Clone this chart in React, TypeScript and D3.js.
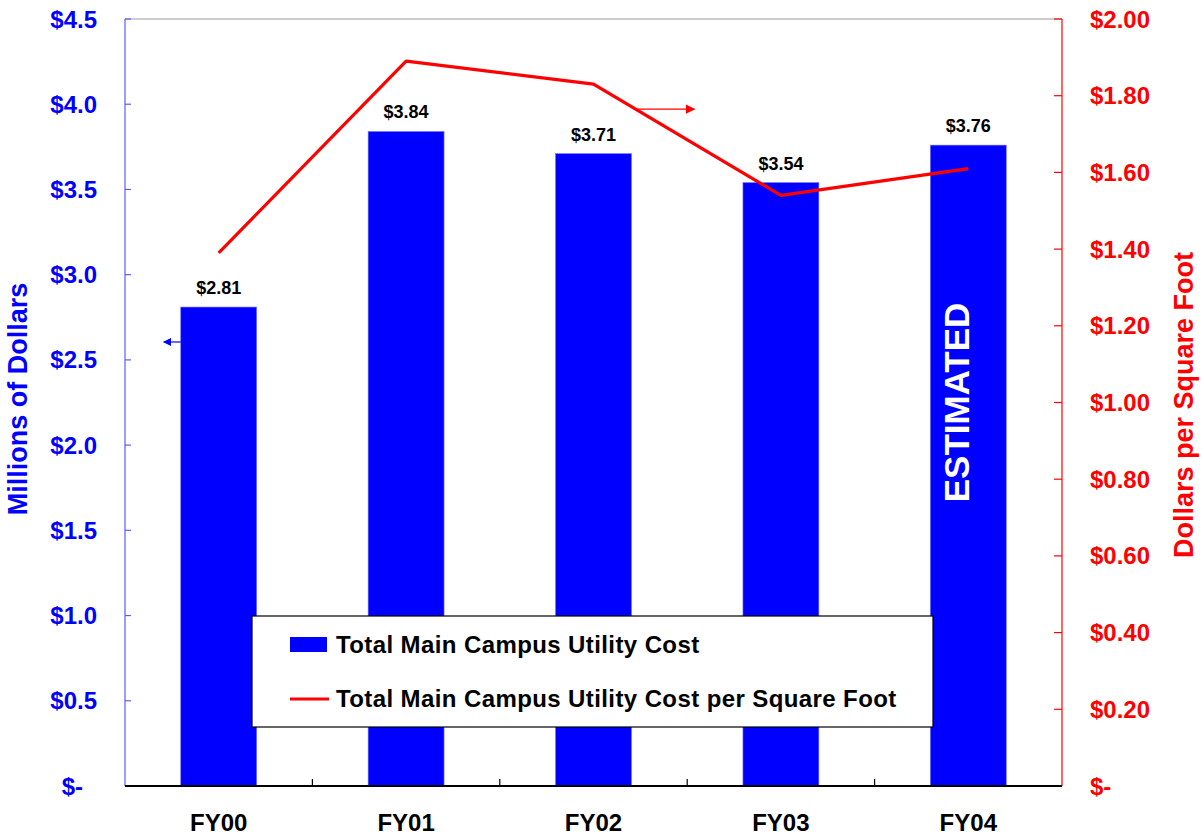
import { useMemo } from 'react';
import * as d3 from 'd3';

const categories = ['FY00', 'FY01', 'FY02', 'FY03', 'FY04'];
const totalCost = [2.81, 3.84, 3.71, 3.54, 3.76];
const costPerSqFt = [1.39, 1.89, 1.83, 1.54, 1.61];
const leftTicks = [0, 0.5, 1, 1.5, 2, 2.5, 3, 3.5, 4, 4.5];
const rightTicks = [0, 0.2, 0.4, 0.6, 0.8, 1, 1.2, 1.4, 1.6, 1.8, 2];

const WIDTH = 1204;
const HEIGHT = 835;
const LEFT = 125;
const RIGHT = 1062;
const TOP = 19;
const BOTTOM = 786;

const FONT = '"Liberation Sans", Arial, Helvetica, sans-serif';
const BLUE = '#0000ff';
const RED = '#ff0000';

const fmtLeft = (v: number) => (v === 0 ? '$-' : `$${v.toFixed(1)}`);
const fmtRight = (v: number) => (v === 0 ? '$-' : `$${v.toFixed(2)}`);

export default function App() {
  const x = useMemo(
    () =>
      d3
        .scaleBand<string>()
        .domain(categories)
        .range([LEFT, RIGHT])
        .paddingInner(0.595)
        .paddingOuter(0.2975),
    [],
  );
  const yLeft = useMemo(() => d3.scaleLinear().domain([0, 4.5]).range([BOTTOM, TOP]), []);
  const yRight = useMemo(() => d3.scaleLinear().domain([0, 2]).range([BOTTOM, TOP]), []);

  const cx = (c: string) => (x(c) ?? 0) + x.bandwidth() / 2;

  const linePath = d3
    .line<number>()
    .x((_, i) => cx(categories[i]))
    .y((d) => yRight(d))(costPerSqFt);

  // band boundaries carry the category ticks
  const boundaries = categories.slice(1).map((c) => (x(c) ?? 0) - (x.step() - x.bandwidth()) / 2);

  // arrow annotations pointing to each axis
  const leftArrowY = yLeft(2.605);
  const leftArrowX = x(categories[0]) ?? 0;
  const rightArrowY = yRight(1.765);
  const rightArrowX = cx(categories[2]) + 41;

  const last = categories[categories.length - 1];

  return (
    <svg
      width={WIDTH}
      height={HEIGHT}
      style={{ position: 'absolute', left: 0, top: 0, background: '#fff' }}
      fontFamily={FONT}
      fontWeight="bold"
    >
      <defs>
        <marker id="arrowBlue" viewBox="0 0 10 10" refX="9" refY="5" markerWidth="7" markerHeight="7" orient="auto">
          <path d="M0,0 L10,5 L0,10 z" fill={BLUE} />
        </marker>
        <marker id="arrowRed" viewBox="0 0 10 10" refX="9" refY="5" markerWidth="8" markerHeight="8" orient="auto">
          <path d="M0,0 L10,5 L0,10 z" fill={RED} />
        </marker>
      </defs>

      {/* top frame line */}
      <line x1={LEFT} x2={RIGHT} y1={TOP} y2={TOP} stroke="#999" strokeWidth={1.2} />

      {/* bars */}
      {totalCost.map((v, i) => (
        <rect
          key={categories[i]}
          x={x(categories[i])}
          y={yLeft(v)}
          width={x.bandwidth()}
          height={BOTTOM - yLeft(v)}
          fill={BLUE}
          stroke="#6f6fff"
          strokeWidth={0.6}
        />
      ))}

      {/* bar value labels */}
      {totalCost.map((v, i) => (
        <text
          key={`lbl-${categories[i]}`}
          x={cx(categories[i])}
          y={yLeft(v) - 13}
          textAnchor="middle"
          fontSize={18}
          fill="#000"
        >
          {`$${v.toFixed(2)}`}
        </text>
      ))}

      <text
        transform={`translate(${cx(last) - 12}, ${(TOP + BOTTOM) / 2}) rotate(-90)`}
        textAnchor="middle"
        dominantBaseline="central"
        fontSize={35}
        fill="#fff"
      >
        ESTIMATED
      </text>

      {/* per square foot line */}
      <path d={linePath ?? ''} fill="none" stroke={RED} strokeWidth={3.2} strokeLinejoin="round" />

      {/* arrows */}
      <line
        x1={leftArrowX}
        x2={leftArrowX - 17}
        y1={leftArrowY}
        y2={leftArrowY}
        stroke={BLUE}
        strokeWidth={1.2}
        markerEnd="url(#arrowBlue)"
      />
      <line
        x1={rightArrowX}
        x2={rightArrowX + 60}
        y1={rightArrowY}
        y2={rightArrowY}
        stroke={RED}
        strokeWidth={1.2}
        markerEnd="url(#arrowRed)"
      />

      {/* left axis */}
      <line x1={LEFT} x2={LEFT} y1={TOP} y2={BOTTOM} stroke="#5c5cff" strokeWidth={1.2} />
      {leftTicks.map((t) => (
        <g key={`l-${t}`}>
          <line x1={LEFT} x2={LEFT + 6} y1={yLeft(t)} y2={yLeft(t)} stroke="#5c5cff" strokeWidth={1.2} />
          <text
            x={t === 0 ? 83 : 97}
            y={yLeft(t)}
            textAnchor="end"
            dominantBaseline="central"
            fontSize={24}
            fill={BLUE}
          >
            {fmtLeft(t)}
          </text>
        </g>
      ))}

      {/* right axis */}
      <line x1={RIGHT} x2={RIGHT} y1={TOP} y2={BOTTOM} stroke={RED} strokeWidth={1.2} />
      {rightTicks.map((t) => (
        <g key={`r-${t}`}>
          <line x1={RIGHT - 8} x2={RIGHT} y1={yRight(t)} y2={yRight(t)} stroke={RED} strokeWidth={1.2} />
          <text x={1090} y={yRight(t)} dominantBaseline="central" fontSize={24} fill={RED}>
            {fmtRight(t)}
          </text>
        </g>
      ))}

      {/* x axis */}
      <line x1={LEFT} x2={RIGHT} y1={BOTTOM} y2={BOTTOM} stroke="#000" strokeWidth={2} />
      {boundaries.map((b, i) => (
        <line key={`xt-${i}`} x1={b} x2={b} y1={BOTTOM} y2={BOTTOM - 7} stroke="#000" strokeWidth={1.2} />
      ))}
      {categories.map((c) => (
        <text key={`x-${c}`} x={cx(c)} y={831} textAnchor="middle" fontSize={24} fill="#000">
          {c}
        </text>
      ))}

      {/* axis titles */}
      <text
        transform="translate(18, 399) rotate(-90)"
        textAnchor="middle"
        dominantBaseline="central"
        fontSize={27}
        fill={BLUE}
      >
        Millions of Dollars
      </text>
      <text
        transform="translate(1184, 405) rotate(-90)"
        textAnchor="middle"
        dominantBaseline="central"
        fontSize={27}
        fill={RED}
      >
        Dollars per Square Foot
      </text>

      {/* legend */}
      <g>
        <rect x={252} y={616} width={681} height={111} fill="#fff" stroke="#000" strokeWidth={1.2} />
        <rect x={290} y={637} width={37} height={15} fill={BLUE} />
        <text x={336} y={644} dominantBaseline="central" fontSize={24} letterSpacing={0.4} fill="#000">
          Total Main Campus Utility Cost
        </text>
        <line x1={290} x2={329} y1={699} y2={699} stroke={RED} strokeWidth={3.2} />
        <text x={336} y={698} dominantBaseline="central" fontSize={24} letterSpacing={0.4} fill="#000">
          Total Main Campus Utility Cost per Square Foot
        </text>
      </g>
    </svg>
  );
}
